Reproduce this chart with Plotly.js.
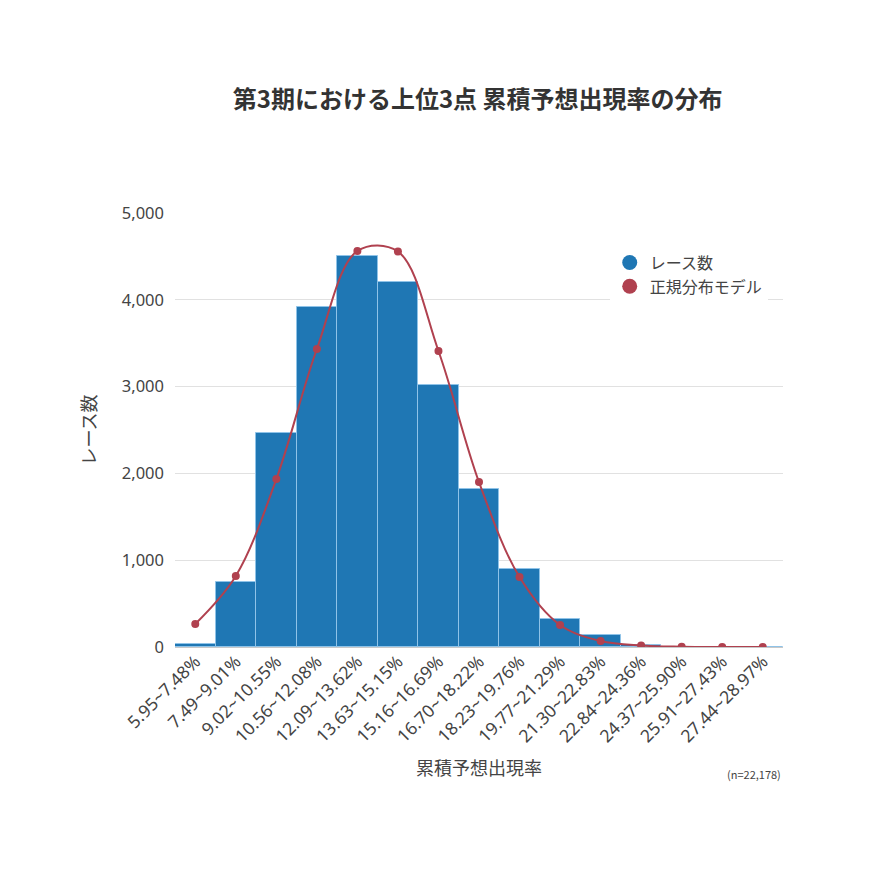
<!DOCTYPE html>
<html>
<head>
<meta charset="utf-8">
<script src="https://cdn.plot.ly/plotly-3.0.1.min.js"></script>
<style>
  html, body { margin: 0; padding: 0; background: #fff; }
  #chart { width: 870px; height: 870px; }
</style>
</head>
<body>
<div id="chart"></div>
<script>
// 累積予想出現率の区間
var bins = ['5.95~7.48%', '7.49~9.01%', '9.02~10.55%', '10.56~12.08%', '12.09~13.62%',
    '13.63~15.15%', '15.16~16.69%', '16.70~18.22%', '18.23~19.76%', '19.77~21.29%',
    '21.30~22.83%', '22.84~24.36%', '24.37~25.90%', '25.91~27.43%', '27.44~28.97%'];

// レース数 (実測)
var raceCounts = [40, 750, 2460, 3920, 4500, 4200, 3020, 1820, 900, 325, 140, 25, 5, 1, 1];

// 正規分布モデル
var normalModel = [265, 818, 1935, 3433, 4562, 4556, 3410, 1900, 806, 253, 69, 17, 3, 0, 0];

var fontFamily = '"Noto Sans CJK JP", "Noto Sans", sans-serif';
var tickFamily = '"Noto Sans", "Noto Sans CJK JP", sans-serif';
var barColor = '#1f77b4';
var lineColor = '#b0414f';

var barTrace = {
    x: bins,
    y: raceCounts,
    type: 'bar',
    name: 'レース数',
    showlegend: false,
    marker: {
        color: barColor,
        line: { color: '#8fc3e8', width: 1 }
    }
};

var lineTrace = {
    x: bins,
    y: normalModel,
    type: 'scatter',
    mode: 'lines+markers',
    name: '正規分布モデル',
    showlegend: false,
    line: { color: lineColor, width: 2, shape: 'spline' },
    marker: { color: lineColor, size: 8 }
};

// 凡例は丸印で表示する
var legendBar = {
    x: [null], y: [null], type: 'scatter', mode: 'markers',
    name: 'レース数', marker: { color: barColor, size: 15, symbol: 'circle' }
};
var legendLine = {
    x: [null], y: [null], type: 'scatter', mode: 'markers',
    name: '正規分布モデル', marker: { color: lineColor, size: 15, symbol: 'circle' }
};

var layout = {
    width: 870,
    height: 870,
    paper_bgcolor: '#fff',
    plot_bgcolor: '#fff',
    font: { family: fontFamily, color: '#444', size: 15 },
    margin: { l: 175, r: 87, t: 213, b: 223 },
    bargap: 0,
    title: {
        text: '<b>第3期における上位3点 累積予想出現率の分布</b>',
        font: { family: fontFamily, size: 24, color: '#333' },
        x: 0.549,
        xanchor: 'center',
        y: 0.886,
        yanchor: 'middle'
    },
    xaxis: {
        title: { text: '累積予想出現率', font: { size: 18, color: '#444' }, standoff: 16 },
        range: [-0.5, 14.5],
        tickangle: -45,
        tickfont: { family: tickFamily, size: 17.5, color: '#444' },
        showgrid: false,
        ticks: '',
        automargin: false
    },
    yaxis: {
        title: { text: 'レース数', font: { size: 18, color: '#444' }, standoff: 20 },
        range: [0, 5000],
        dtick: 1000,
        tickformat: ',d',
        tickfont: { family: tickFamily, size: 16.5, color: '#444' },
        ticklabelstandoff: 10,
        gridcolor: '#e1e1e1',
        zeroline: true,
        zerolinecolor: '#c8c8c8',
        zerolinewidth: 1,
        automargin: false
    },
    legend: {
        x: 0.715,
        y: 0.925,
        xanchor: 'left',
        yanchor: 'top',
        bgcolor: '#fff',
        font: { size: 16, color: '#444' },
        tracegroupgap: 0
    },
    annotations: [{
        text: '(n=22,178)',
        xref: 'paper',
        yref: 'paper',
        x: 1,
        y: -0.292,
        xanchor: 'right',
        yanchor: 'middle',
        showarrow: false,
        font: { size: 11, color: '#444' }
    }]
};

Plotly.newPlot('chart', [barTrace, lineTrace, legendBar, legendLine], layout, { displayModeBar: false });
</script>
</body>
</html>
